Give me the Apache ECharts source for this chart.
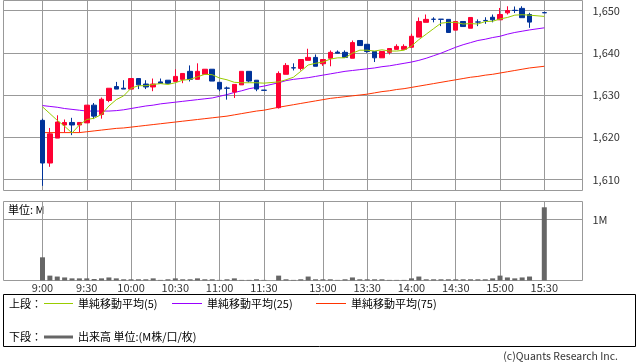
<!DOCTYPE html>
<html>
<head>
<meta charset="utf-8">
<script src="https://cdn.jsdelivr.net/npm/echarts@6/dist/echarts.min.js"></script>
<style>
html,body{margin:0;padding:0;background:#fff;}
#c{width:638px;height:362px;}
</style>
</head>
<body>
<div id="c"></div>
<script>
const categories = ['9:00','9:05','9:10','9:15','9:20','9:25','9:30','9:35','9:40','9:45','9:50','9:55',
 '10:00','10:05','10:10','10:15','10:20','10:25','10:30','10:35','10:40','10:45','10:50','10:55',
 '11:00','11:05','11:10','11:15','11:20','11:25','11:30',' ',
 '12:30','12:35','12:40','12:45','12:50','12:55','13:00','13:05','13:10','13:15','13:20','13:25',
 '13:30','13:35','13:40','13:45','13:50','13:55','14:00','14:05','14:10','14:15','14:20','14:25',
 '14:30','14:35','14:40','14:45','14:50','14:55','15:00','15:05','15:10','15:15','15:20','15:25','15:30'];
const timeTicks = ['9:00','9:30','10:00','10:30','11:00','11:30','13:00','13:30','14:00','14:30','15:00','15:30'];
const priceTicks = [1610,1620,1630,1640,1650];
const volumeTicks = [1];

const openP = [1624.0,1613.9,1619.8,1622.9,1623.5,1622.9,1623.4,1627.6,1625.4,1628.7,1632.0,1631.6,
 1631.4,1633.9,1632.6,1631.9,1633.1,1633.5,1633.2,1633.7,1635.6,1633.7,1634.9,1636.1,
 1633.0,1631.65,1630.7,1632.4,1635.6,1633.5,1631.15,null,
 1627.0,1634.9,1636.45,1636.3,1638.2,1638.9,1637.4,1638.7,1640.15,1640.1,1638.7,1642.9,
 1642.0,1640.3,1638.8,1640.1,1640.8,1640.8,1641.3,1643.7,1647.2,1647.95,1647.95,1647.9,
 1645.35,1647.4,1645.8,1647.3,1647.65,1648.4,1647.8,1649.45,1650.05,1650.5,1649.05,null,1649.5];
const closeP = [1613.9,1620.8,1623.6,1623.5,1622.9,1623.5,1627.6,1625.0,1629.0,1631.6,1631.4,1631.4,
 1633.9,1632.4,1631.9,1632.6,1632.75,1632.75,1634.4,1635.1,1633.7,1635.6,1636.1,1633.3,
 1631.4,1631.6,1632.5,1635.6,1633.3,1631.4,1631.1,null,
 1635.1,1637.0,1636.4,1638.4,1638.9,1636.8,1638.4,1640.1,1639.9,1638.9,1642.4,1641.7,
 1640.3,1638.8,1640.3,1641.0,1641.5,1641.5,1643.9,1647.4,1647.9,1647.9,1647.9,1644.8,
 1647.4,1646.2,1648.35,1647.25,1647.6,1647.8,1649.05,1650.0,1650.0,1648.3,1647.25,null,1649.45];
const lowP = [1608.5,1613.0,1619.8,1621.1,1620.5,1621.1,1623.4,1624.3,1624.4,1628.3,1631.4,1631.4,
 1631.4,1631.4,1631.4,1630.9,1632.75,1632.75,1633.2,1632.8,1633.2,1633.7,1634.9,1633.3,
 1630.9,1628.9,1629.3,1632.4,1633.0,1630.9,1631.1,null,
 1626.8,1634.9,1635.8,1635.8,1638.2,1636.8,1636.9,1636.8,1639.9,1638.9,1638.7,1641.7,
 1640.0,1637.8,1638.8,1639.6,1640.8,1640.8,1641.3,1643.7,1647.2,1647.2,1646.3,1644.8,
 1645.35,1646.2,1645.8,1646.3,1646.85,1647.2,1647.8,1649.05,1649.4,1648.3,1645.9,null,1649.45];
const highP = [1624.4,1622.2,1625.2,1624.2,1624.6,1623.5,1627.6,1628.1,1629.4,1631.6,1633.1,1633.5,
 1633.9,1633.9,1633.5,1633.9,1633.9,1633.5,1636.1,1635.1,1637.0,1637.5,1636.1,1636.1,
 1633.0,1632.0,1632.5,1635.6,1635.6,1633.5,1631.15,null,
 1635.6,1637.55,1637.5,1638.4,1640.95,1639.6,1638.4,1640.55,1640.55,1640.55,1642.9,1642.9,
 1642.0,1640.3,1640.3,1641.0,1642.0,1642.0,1644.5,1648.35,1649.05,1648.4,1647.95,1647.9,
 1647.4,1647.4,1648.35,1647.9,1648.4,1649.05,1650.6,1651.0,1650.95,1651.0,1649.45,null,1649.7];

const ma5 = [1627.2,1625.6,1624.0,1622.6,1621.0,1622.9,1624.2,1624.5,1625.4,1627.4,1628.9,1629.8,
 1631.6,1632.2,1632.2,1632.5,1632.7,1632.5,1632.9,1633.5,1633.7,1634.3,1634.9,1634.8,
 1634.0,1633.6,1633.0,1632.9,1632.9,1632.9,1632.8,null,
 1633.1,1633.6,1634.2,1635.6,1637.1,1637.5,1637.8,1638.5,1638.8,1638.8,1639.9,1640.6,
 1640.6,1640.4,1640.7,1640.4,1640.4,1640.6,1641.6,1643.1,1644.4,1645.7,1647.0,1647.2,
 1647.2,1646.8,1646.9,1646.8,1647.4,1647.45,1648.0,1648.35,1648.9,1649.0,1648.9,null,1648.6];
const ma25 = [1627.5,1627.3,1627.1,1626.8,1626.6,1626.4,1626.2,1626.2,1626.2,1626.2,1626.3,1626.5,
 1626.8,1627.1,1627.4,1627.6,1627.9,1628.1,1628.3,1628.5,1628.7,1628.9,1629.1,1629.3,
 1629.7,1630.1,1630.6,1631.0,1631.5,1631.8,1632.1,null,
 1632.9,1633.4,1633.7,1633.9,1634.1,1634.4,1634.7,1635.0,1635.3,1635.6,1635.8,1636.0,
 1636.2,1636.4,1636.7,1636.9,1637.2,1637.5,1637.8,1638.2,1638.7,1639.3,1639.9,1640.6,
 1641.3,1641.9,1642.4,1642.9,1643.2,1643.6,1643.9,1644.4,1644.8,1645.1,1645.4,null,1645.9];
const ma75 = [1621.1,1621.1,1621.1,1621.1,1621.1,1621.1,1621.3,1621.5,1621.7,1621.9,1622.1,1622.2,
 1622.4,1622.6,1622.8,1623.0,1623.2,1623.4,1623.6,1623.8,1624.0,1624.2,1624.4,1624.6,
 1624.8,1625.0,1625.3,1625.6,1625.9,1626.2,1626.4,null,
 1627.1,1627.4,1627.7,1628.0,1628.3,1628.6,1628.9,1629.2,1629.4,1629.6,1629.8,1630.0,
 1630.2,1630.5,1630.8,1631.0,1631.3,1631.5,1631.8,1632.1,1632.4,1632.7,1633.0,1633.3,
 1633.6,1633.9,1634.2,1634.4,1634.7,1634.9,1635.2,1635.5,1635.8,1636.1,1636.4,null,1636.8];
const volume = [0.38,0.08,0.065,0.05,0.035,0.035,0.035,0.025,0.035,0.05,0.035,0.02,
 0.02,0.02,0.02,0.035,0.01,0.02,0.035,0.02,0.02,0.035,0.02,0.02,
 0.01,0.02,0.035,0.01,0.01,0.02,0.01,null,
 0.08,0.02,0.01,0.02,0.065,0.02,0.02,0.02,0.01,0.02,0.05,0.02,
 0.02,0.02,0.02,0.01,0.01,0.01,0.035,0.065,0.02,0.02,0.02,0.02,
 0.02,0.02,0.02,0.02,0.02,0.035,0.08,0.05,0.035,0.05,0.065,null,1.2];

const FONT = "'Noto Sans CJK JP','Noto Sans',sans-serif";
const GRID_COLOR = '#999';
const candleData = openP.map((o, i) => o == null ? '-' : [o, closeP[i], lowP[i], highP[i]]);
const volData = volume.map(v => v == null ? '-' : v);
const isTimeTick = (i, v) => timeTicks.indexOf(v) >= 0;
const fmtPrice = v => String(Math.round(v)).replace(/\B(?=(\d{3})+(?!\d))/g, ',');

const P_MIN = 1607.397, P_MAX = 1652.367;
const V_MAX = 1.2951;

const chart = echarts.init(document.getElementById('c'), null, {renderer: 'canvas'});
const txt = (text, x, y, extra) => Object.assign({
  type: 'text', silent: true,
  style: Object.assign({text: text, x: x, y: y, font: '11px ' + FONT, fill: '#000',
    textVerticalAlign: 'middle', verticalAlign: 'middle', textAlign: 'left', align: 'left'}, extra || {})
});
const seg = (x1, x2, y, color, w) => ({
  type: 'line', silent: true,
  shape: {x1: x1, y1: y, x2: x2, y2: y},
  style: {stroke: color, lineWidth: w}
});

chart.setOption({
  animation: false,
  backgroundColor: '#fff',
  textStyle: {fontFamily: FONT},
  grid: [
    {left: 3.5, top: 0.5, width: 579, height: 190, show: true, borderColor: GRID_COLOR, borderWidth: 1, backgroundColor: 'transparent'},
    {left: 42.5, top: 0.5, width: 501.8, height: 190},
    {left: 3.5, top: 201.5, width: 579, height: 79, show: true, borderColor: GRID_COLOR, borderWidth: 1, backgroundColor: 'transparent'},
    {left: 42.5, top: 201.5, width: 501.8, height: 79}
  ],
  xAxis: [
    {gridIndex: 0, type: 'value', min: 0, max: 1, show: false},
    {gridIndex: 1, type: 'category', data: categories, boundaryGap: false,
      axisLine: {show: false}, axisTick: {show: false}, axisLabel: {show: false},
      splitLine: {show: true, interval: isTimeTick, lineStyle: {color: GRID_COLOR, width: 1}}},
    {gridIndex: 2, type: 'value', min: 0, max: 1, show: false},
    {gridIndex: 3, type: 'category', data: categories, boundaryGap: false,
      axisLine: {show: false}, axisTick: {show: false},
      axisLabel: {show: true, interval: isTimeTick, margin: 2, fontSize: 11, color: '#333', fontFamily: FONT},
      splitLine: {show: true, interval: isTimeTick, lineStyle: {color: GRID_COLOR, width: 1}}}
  ],
  yAxis: [
    {gridIndex: 0, type: 'value', position: 'right', min: P_MIN, max: P_MAX,
      axisLine: {show: false},
      axisTick: {show: true, length: 8, customValues: priceTicks, lineStyle: {color: GRID_COLOR}},
      axisLabel: {show: true, customValues: priceTicks, margin: 10, fontSize: 11, color: '#333', fontFamily: FONT,
        formatter: v => (Math.abs(v % 10) < 1e-6 ? fmtPrice(v) : '')},
      splitLine: {show: true, lineStyle: {color: GRID_COLOR, width: 1}}},
    {gridIndex: 1, type: 'value', min: P_MIN, max: P_MAX, show: false, splitLine: {show: false}},
    {gridIndex: 2, type: 'value', position: 'right', min: 0, max: V_MAX,
      axisLine: {show: false},
      axisTick: {show: true, length: 8, customValues: volumeTicks, lineStyle: {color: GRID_COLOR}},
      axisLabel: {show: true, customValues: volumeTicks, margin: 10, fontSize: 11, color: '#333', fontFamily: FONT,
        formatter: v => (Math.abs(v - 1) < 1e-6 ? '1M' : '')},
      splitLine: {show: true, lineStyle: {color: GRID_COLOR, width: 1}}},
    {gridIndex: 3, type: 'value', min: 0, max: V_MAX, show: false, splitLine: {show: false}}
  ],
  series: [
    {type: 'line', name: 'MA75', xAxisIndex: 1, yAxisIndex: 1, data: ma75, showSymbol: false, symbol: 'none',
      connectNulls: true, lineStyle: {color: '#ff3300', width: 1}, z: 3},
    {type: 'line', name: 'MA25', xAxisIndex: 1, yAxisIndex: 1, data: ma25, showSymbol: false, symbol: 'none',
      connectNulls: true, lineStyle: {color: '#9900ff', width: 1}, z: 3},
    {type: 'candlestick', xAxisIndex: 1, yAxisIndex: 1, data: candleData, barWidth: 5, clip: false,
      itemStyle: {color: '#ff0033', color0: '#003399', borderColor: '#ff0033', borderColor0: '#003399', borderWidth: 1}, z: 4},
    {type: 'line', name: 'MA5', xAxisIndex: 1, yAxisIndex: 1, data: ma5, showSymbol: false, symbol: 'none',
      connectNulls: true, lineStyle: {color: '#99cc00', width: 1}, z: 5},
    {type: 'bar', xAxisIndex: 3, yAxisIndex: 3, data: volData, barWidth: 5,
      itemStyle: {color: '#666'}}
  ],
  graphic: [
    txt('単位: M', 8, 209.5),
    {type: 'rect', silent: true, shape: {x: 3.5, y: 294.5, width: 632, height: 52},
      style: {fill: 'none', stroke: '#000', lineWidth: 1}},
    txt('上段：', 9, 303.5),
    seg(44, 73, 303.5, '#99cc00', 1),
    txt('単純移動平均(5)', 78, 303.5),
    seg(172, 202, 303.5, '#9900ff', 1),
    txt('単純移動平均(25)', 207, 303.5),
    seg(316, 346, 303.5, '#ff3300', 1),
    txt('単純移動平均(75)', 351, 303.5),
    txt('下段：', 9, 337),
    seg(44, 73, 337, '#666', 3),
    txt('出来高 単位:(M株/口/枚)', 78, 337),
    txt('(c)Quants Research Inc.', 618, 356, {textAlign: 'right', align: 'right', fill: '#333', font: '10.5px ' + FONT})
  ]
});
</script>
</body>
</html>
